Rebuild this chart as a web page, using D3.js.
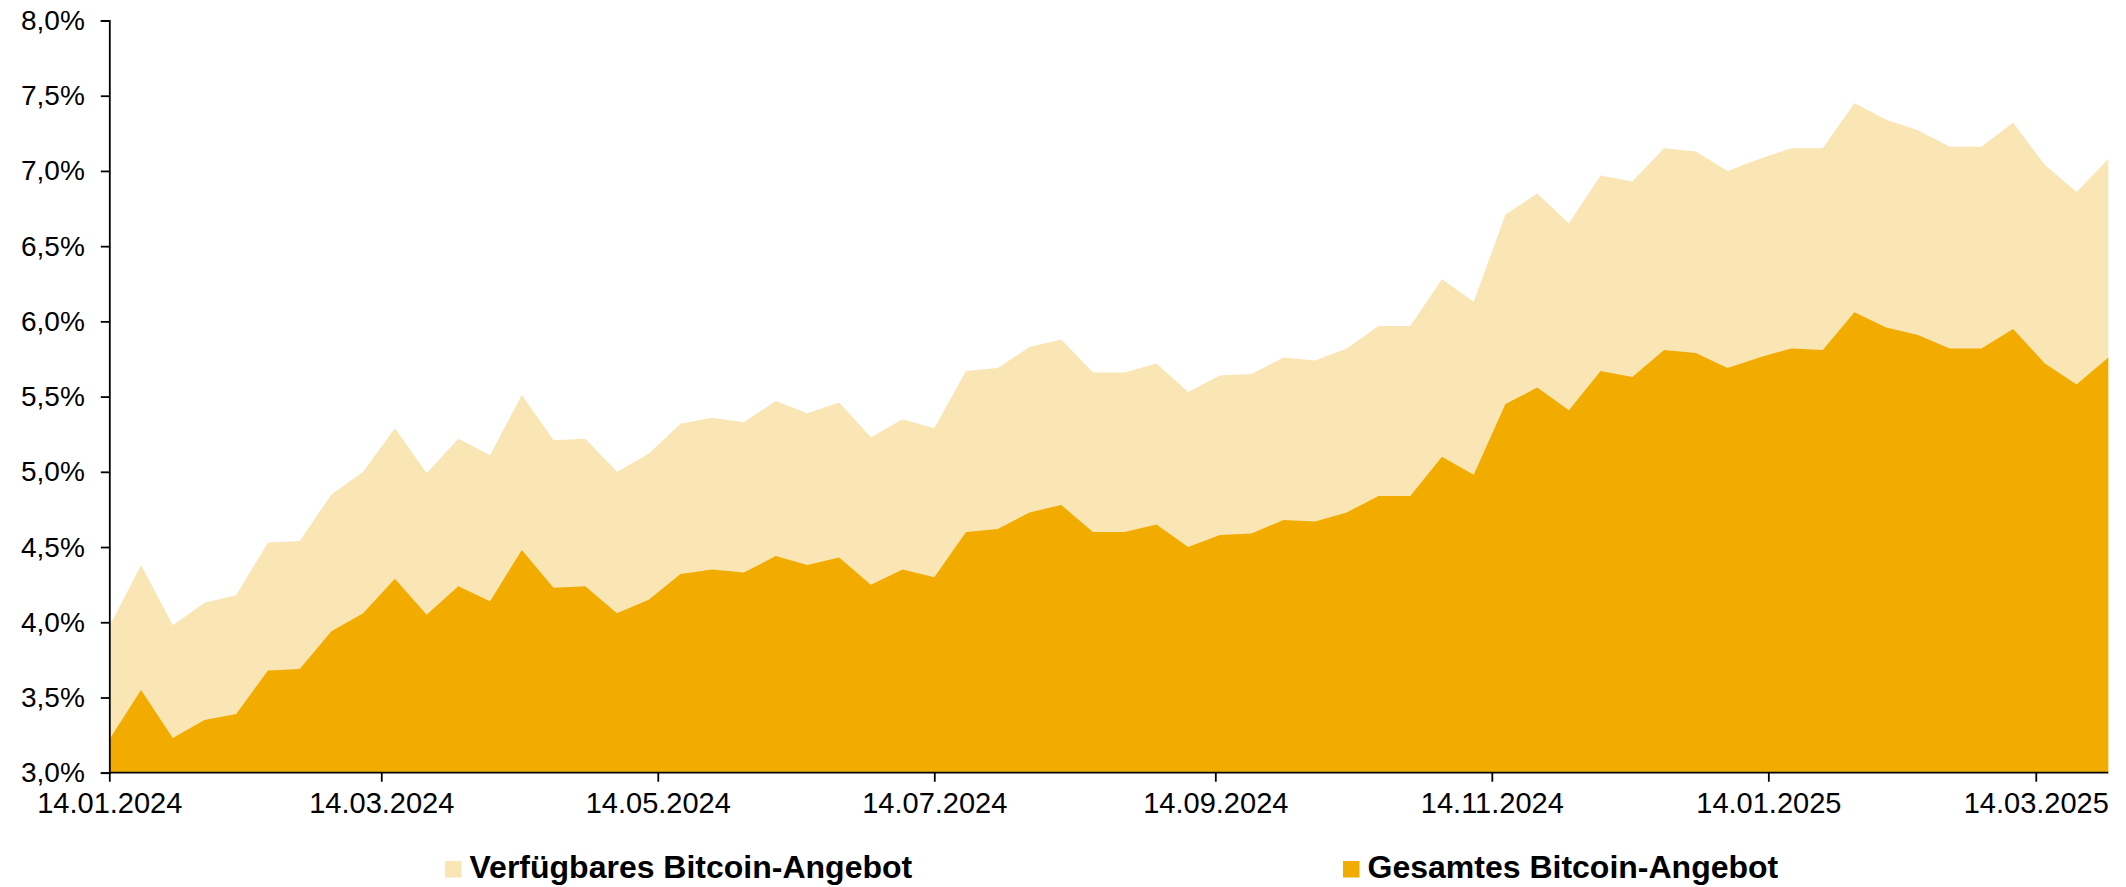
<!DOCTYPE html>
<html>
<head>
<meta charset="utf-8">
<script src="https://cdn.jsdelivr.net/npm/d3@7"></script>
<style>
  html, body { margin: 0; padding: 0; background: #fff; }
  svg { display: block; font-family: "Liberation Sans", Arial, sans-serif; }
</style>
</head>
<body>
<svg id="chart" width="2126" height="887"></svg>
<script>
// ---- Data ----
const dates = [
  "2024-01-14","2024-01-21","2024-01-28","2024-02-04","2024-02-11","2024-02-18","2024-02-25",
  "2024-03-03","2024-03-10","2024-03-17","2024-03-24","2024-03-31","2024-04-07","2024-04-14",
  "2024-04-21","2024-04-28","2024-05-05","2024-05-12","2024-05-19","2024-05-26","2024-06-02",
  "2024-06-09","2024-06-16","2024-06-23","2024-06-30","2024-07-07","2024-07-14","2024-07-21",
  "2024-07-28","2024-08-04","2024-08-11","2024-08-18","2024-08-25","2024-09-01","2024-09-08",
  "2024-09-15","2024-09-22","2024-09-29","2024-10-06","2024-10-13","2024-10-20","2024-10-27",
  "2024-11-03","2024-11-10","2024-11-17","2024-11-24","2024-12-01","2024-12-08","2024-12-15",
  "2024-12-22","2024-12-29","2025-01-05","2025-01-12","2025-01-19","2025-01-26","2025-02-02",
  "2025-02-09","2025-02-16","2025-02-23","2025-03-02","2025-03-09","2025-03-16","2025-03-23",
  "2025-03-30"
];

// Verfügbares Bitcoin-Angebot (%)
const available = [
  3.97, 4.38, 3.98, 4.13, 4.18, 4.53, 4.54, 4.85, 5.00, 5.29, 4.99, 5.22, 5.11, 5.51,
  5.21, 5.22, 5.00, 5.12, 5.32, 5.36, 5.33, 5.47, 5.39, 5.46, 5.23, 5.35, 5.29, 5.67,
  5.69, 5.83, 5.88, 5.66, 5.66, 5.72, 5.53, 5.64, 5.65, 5.76, 5.74, 5.82, 5.97, 5.97,
  6.28, 6.13, 6.71, 6.85, 6.65, 6.97, 6.93, 7.15, 7.13, 7.00, 7.08, 7.15, 7.15, 7.45,
  7.34, 7.27, 7.16, 7.16, 7.32, 7.04, 6.86, 7.08
];

// Gesamtes Bitcoin-Angebot (%)
const total = [
  3.22, 3.55, 3.23, 3.35, 3.39, 3.68, 3.69, 3.94, 4.06, 4.29, 4.05, 4.24, 4.14, 4.48,
  4.23, 4.24, 4.06, 4.15, 4.32, 4.35, 4.33, 4.44, 4.38, 4.43, 4.25, 4.35, 4.30, 4.60,
  4.62, 4.73, 4.78, 4.60, 4.60, 4.65, 4.50, 4.58, 4.59, 4.68, 4.67, 4.73, 4.84, 4.84,
  5.10, 4.98, 5.45, 5.56, 5.41, 5.67, 5.63, 5.81, 5.79, 5.69, 5.76, 5.82, 5.81, 6.06,
  5.96, 5.91, 5.82, 5.82, 5.95, 5.72, 5.58, 5.76
];

const xTickDates = ["2024-01-14","2024-03-14","2024-05-14","2024-07-14","2024-09-14","2024-11-14","2025-01-14","2025-03-14"];
const yTicks = [3.0, 3.5, 4.0, 4.5, 5.0, 5.5, 6.0, 6.5, 7.0, 7.5, 8.0];
const seriesNames = ["Verfügbares Bitcoin-Angebot", "Gesamtes Bitcoin-Angebot"];
const seriesColors = ["#FAE5B5", "#F2AC00"];

// ---- Chart ----
const parse = d3.timeParse("%Y-%m-%d");
const fmt = d3.timeFormat("%d.%m.%Y");
const xDates = dates.map(parse);

const svg = d3.select("#chart");
const mLeft = 109.3, mRight = 2108.3, mTop = 20.5, mBottom = 772.7;

const x = d3.scaleTime().domain([xDates[0], xDates[xDates.length - 1]]).range([mLeft, mRight]);
const y = d3.scaleLinear().domain([3, 8]).range([mBottom, mTop]);

const rows = xDates.map((d, i) => ({ d, a: available[i], t: total[i] }));

const areaA = d3.area().x(r => x(r.d)).y0(y(3)).y1(r => y(r.a));
const areaT = d3.area().x(r => x(r.d)).y0(y(3)).y1(r => y(r.t));

svg.append("path").datum(rows).attr("d", areaA).attr("fill", seriesColors[0]);
svg.append("path").datum(rows).attr("d", areaT).attr("fill", seriesColors[1]);

// Y axis
const yAxis = d3.axisLeft(y).tickValues(yTicks).tickSize(8.5).tickPadding(16)
  .tickFormat(v => d3.format(".1f")(v).replace(".", ",") + "%");
const gy = svg.append("g").attr("transform", `translate(${mLeft},0)`).call(yAxis);
gy.select(".domain").attr("stroke", "#000").attr("stroke-width", 1.8);
gy.selectAll(".tick line").attr("stroke", "#000").attr("stroke-width", 1.8);
gy.selectAll(".tick text").attr("font-size", 28).attr("fill", "#000")
  .attr("font-family", "'Liberation Sans', Arial, sans-serif");

// X axis
const xAxis = d3.axisBottom(x).tickValues(xTickDates.map(parse)).tickSize(9).tickPadding(11)
  .tickFormat(fmt);
const gx = svg.append("g").attr("transform", `translate(0,${mBottom})`).call(xAxis);
gx.select(".domain").attr("stroke", "#000").attr("stroke-width", 1.8)
  .attr("d", `M${mLeft},0H${mRight}`);
gx.selectAll(".tick line").attr("stroke", "#000").attr("stroke-width", 1.8);
gx.selectAll(".tick text").attr("font-size", 29).attr("fill", "#000")
  .attr("font-family", "'Liberation Sans', Arial, sans-serif");

// Legend
const legendX = [445, 1343];
const lg = svg.append("g");
seriesNames.forEach((name, i) => {
  lg.append("rect").attr("x", legendX[i]).attr("y", 861).attr("width", 16.5).attr("height", 16.5)
    .attr("fill", seriesColors[i]);
  lg.append("text").attr("x", legendX[i] + 24.5).attr("y", 878)
    .attr("font-size", 32).attr("font-weight", "bold").attr("fill", "#000")
    .text(name);
});
</script>
</body>
</html>
